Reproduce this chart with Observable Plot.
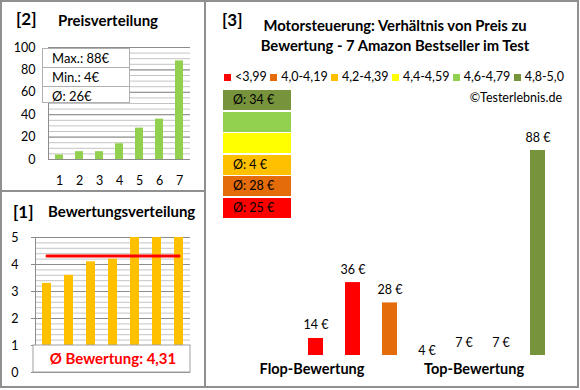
<!DOCTYPE html>
<html><head><meta charset="utf-8">
<script src="https://cdn.jsdelivr.net/npm/d3@7"></script>
<script src="https://cdn.jsdelivr.net/npm/@observablehq/plot@0.6"></script>
<style>
body{margin:0;background:#fff;}
#root{position:relative;width:580px;height:390px;font-family:Lato,"Open Sans",sans-serif;overflow:hidden;background:#fff;color:#000;}
.abs{position:absolute;white-space:nowrap;}
#root svg{position:absolute;}
</style></head><body><div id="root"></div>
<script>
// ---- data ----
const products = ["1","2","3","4","5","6","7"];
const prices = [14, 36, 28, 4, 7, 7, 88];          // € per product (main chart order)
const ratings = [3.3, 3.6, 4.1, 4.2, 5.0, 5.0, 5.0];
const classLabels = ["<3,99","4,0-4,19","4,2-4,39","4,4-4,59","4,6-4,79","4,8-5,0"];
const classColors = ["#ff0000","#e46c0a","#ffc000","#ffff00","#92d050","#77933c"];
const classLower = [0, 4.0, 4.2, 4.4, 4.6, 4.8];
const groupLabels = ["Flop-Bewertung","Top-Bewertung"];
const priceTicks = [0, 20, 40, 60, 80, 100];
const ratingTicks = [0, 1, 2, 3, 4, 5];
const mainYMin = 7.3;   // lower bound of main chart's value axis
const mainYMax = 88;

const FONT = "Lato, 'Open Sans', sans-serif";
const root = document.getElementById("root");
function place(el, left, top){ el.style.left = left+"px"; el.style.top = top+"px"; root.appendChild(el); return el; }
function div(html, css){ const d = document.createElement("div"); d.className="abs"; d.innerHTML = html; Object.assign(d.style, css||{}); return d; }
const fmt = v => String(Math.round(v));
const classOf = r => { let k = 0; classLower.forEach((l,i)=>{ if (r >= l) k = i; }); return k; };

// ---- Panel [2] Preisverteilung ----
const sortedPrices = prices.slice().sort((a,b)=>a-b);
const p2 = sortedPrices.map((v,i)=>({k: products[i], v}));
const plot2 = Plot.plot({
  width: 200, height: 195, marginLeft: 48, marginRight: 10, marginTop: 47, marginBottom: 36,
  style: {fontFamily: FONT, fontSize: "12.5px", color: "#000", background: "none", overflow: "visible"},
  x: {domain: products, paddingInner: 0.6, paddingOuter: 0.29, axis: null},
  y: {domain: [0, 100], axis: null},
  marks: [
    Plot.ruleY(d3.range(0, 101, 5), {stroke: "#c4c4c4", strokeWidth: 1}),
    Plot.ruleY(priceTicks, {stroke: "#8c8c8c", strokeWidth: 1}),
    Plot.frame({anchor: "left", stroke: "#8c8c8c"}),
    Plot.barY(p2, {x: "k", y: "v", fill: "#92d050"}),
    Plot.axisY({ticks: priceTicks, tickSize: 0, tickPadding: 13, fill: "#000", label: null, tickFormat: d => String(d)}),
    Plot.axisX({tickSize: 0, tickPadding: 17, fill: "#000", label: null})
  ]
});
place(plot2, 0, 0);

// ---- Panel [1] Bewertungsverteilung ----
const sortedRatings = ratings.slice().sort((a,b)=>a-b);
const p1 = sortedRatings.map((v,i)=>({k: products[i], v}));
const avgRating = d3.mean(ratings);
const avgRatingText = "Ø Bewertung: " + avgRating.toFixed(2).replace(".", ",");
const plot1 = Plot.plot({
  width: 200, height: 195, marginLeft: 35, marginRight: 10, marginTop: 45, marginBottom: 15,
  style: {fontFamily: FONT, fontSize: "12.5px", color: "#000", background: "none", overflow: "visible"},
  x: {domain: products, paddingInner: 0.6, paddingOuter: 0.27, axis: null},
  y: {domain: [0, 5], axis: null},
  marks: [
    Plot.ruleY(d3.range(0, 5.01, 0.2), {stroke: "#c4c4c4", strokeWidth: 1}),
    Plot.ruleY(ratingTicks, {stroke: "#8c8c8c", strokeWidth: 1}),
    Plot.frame({anchor: "left", stroke: "#8c8c8c"}),
    Plot.axisY({ticks: ratingTicks, tickSize: 4, tickPadding: 13, stroke: "#8c8c8c", fill: "#000", label: null, tickFormat: d => String(d)}),
    Plot.barY(p1, {x: "k", y: "v", fill: "#ffc000"}),
    Plot.line(products.map(k=>({k, v: avgRating})), {x: "k", y: "v", stroke: "#ff0000", strokeWidth: 3}),
    Plot.rect([0], {y1: 0, y2: 1, fill: "#fff", stroke: "#a0a0a0", insetLeft: -2}),
    Plot.text([avgRatingText], {y: () => 0.5, text: d => d, frameAnchor: "middle", fill: "#ff0000", fontWeight: "bold", fontSize: 15})
  ]
});
place(plot1, 0, 192);

// ---- Panel [3] main chart ----
const mainData = prices.map((v,i)=>({k: products[i], v, c: classColors[classOf(ratings[i])]}));
const plot3 = Plot.plot({
  width: 370, height: 255, marginLeft: 83.4, marginRight: 10.9, marginTop: 20, marginBottom: 30,
  style: {fontFamily: FONT, fontSize: "12.5px", color: "#000", background: "none", overflow: "visible"},
  x: {domain: products, paddingInner: 0.6, paddingOuter: 0.5, axis: null},
  y: {domain: [mainYMin, mainYMax], axis: null},
  marks: [
    Plot.barY(mainData, {x: "k", y1: 0, y2: "v", fill: "c", clip: true}),
    Plot.text(mainData, {x: "k", y: "v", text: d => d.v + " €", dy: -13, fill: "#000"})
  ]
});
place(plot3, 205, 130);

// ---- text & decorations ----
place(div("[2]", {fontSize:"17px", fontWeight:"bold", lineHeight:"17px"}), 16, 10);
place(div("Preisverteilung", {fontSize:"15px", fontWeight:"bold", lineHeight:"16px"}), 58, 12);
place(div("[1]", {fontSize:"17px", fontWeight:"bold", lineHeight:"17px"}), 13, 203);
place(div("Bewertungsverteilung", {fontSize:"15px", fontWeight:"bold", lineHeight:"16px"}), 48, 203);
place(div("[3]", {fontSize:"17px", fontWeight:"bold", lineHeight:"17px"}), 222, 11);
place(div("Motorsteuerung: Verhältnis von Preis zu<br>Bewertung - 7 Amazon Bestseller im Test",
  {fontSize:"14.8px", fontWeight:"bold", lineHeight:"20px", width:"300px", textAlign:"center"}), 245, 15);

// info box panel [2]
const infoRows = ["Max.: " + fmt(d3.max(prices)) + "€", "Min.: " + fmt(d3.min(prices)) + "€", "Ø: " + fmt(d3.mean(prices)) + "€"];
const info = div("", {width:"88px", height:"55px", background:"#fff", border:"1px solid #b0b0b0", boxSizing:"border-box"});
infoRows.forEach((t,i)=>{
  const r = document.createElement("div");
  r.textContent = t;
  Object.assign(r.style, {height: i<2 ? "18px" : "17px", lineHeight:"18px", fontSize:"13px", paddingLeft:"9px",
    borderBottom: i<2 ? "1px solid #b0b0b0" : "none"});
  info.appendChild(r);
});
place(info, 42, 48);

// legend row
const legend = div("", {width:"340px", height:"14px", display:"flex", justifyContent:"space-between", alignItems:"center", fontSize:"12.5px", lineHeight:"14px"});
classLabels.forEach((l,i)=>{
  const it = document.createElement("span");
  it.style.display = "flex"; it.style.alignItems = "center";
  it.innerHTML = `<span style="display:inline-block;width:7px;height:7px;background:${classColors[i]};margin-right:4px"></span>${l}`;
  legend.appendChild(it);
});
place(legend, 224, 70);
place(div("©Testerlebnis.de", {fontSize:"12.5px", lineHeight:"14px", width:"120px", textAlign:"right"}), 442, 91);

// stacked average boxes (top: best class)
for (let j = 0; j < classColors.length; j++) {
  const ci = classColors.length - 1 - j;
  const members = prices.filter((p,i)=>classOf(ratings[i]) === ci);
  const label = members.length ? "Ø: " + fmt(d3.mean(members)) + " €" : "";
  const top = 90 + j * 21.6;
  place(div(label, {width:"68px", height:"20px", background: classColors[ci], fontSize:"12.5px", lineHeight:"20px", paddingLeft:"10px", boxSizing:"border-box"}), 223, top);
}

// group labels under main chart
place(div(groupLabels[0], {fontSize:"14.5px", fontWeight:"bold", lineHeight:"16px", width:"140px", textAlign:"center"}), 242, 361);
place(div(groupLabels[1], {fontSize:"14.5px", fontWeight:"bold", lineHeight:"16px", width:"140px", textAlign:"center"}), 404, 361);

// borders
place(div("", {width:"579px", height:"388px", border:"2px solid #909090", boxSizing:"border-box"}), 0, 0);
place(div("", {width:"2px", height:"388px", background:"#909090"}), 204, 0);
place(div("", {width:"205px", height:"2px", background:"#909090"}), 0, 190);
</script></body></html>
